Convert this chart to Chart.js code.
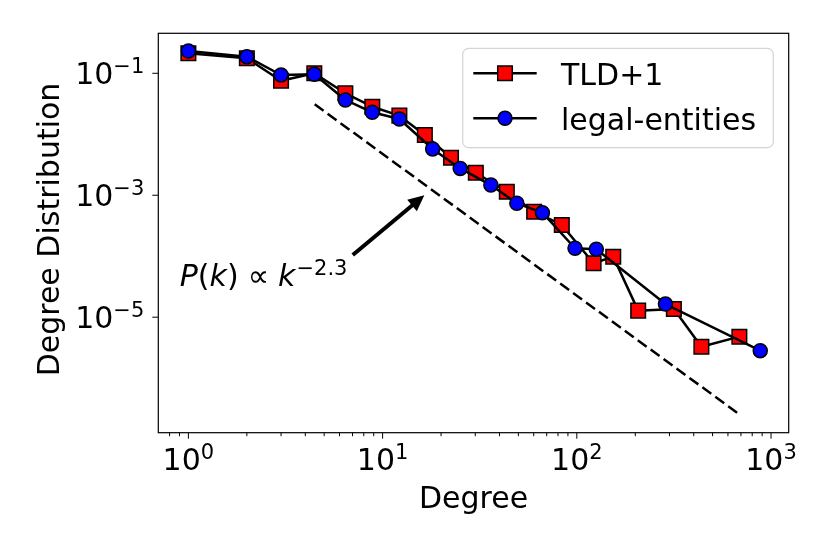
<!DOCTYPE html>
<html><head><meta charset="utf-8">
<script src="https://cdn.jsdelivr.net/npm/chart.js@4.4.1/dist/chart.umd.min.js"></script>
<style>html,body{margin:0;padding:0;background:#fff}canvas{display:block}</style>
</head><body>
<canvas id="c" width="830" height="554"></canvas>
<script>
// ---- data ----
const tldDegree = [1, 2, 3, 4.45, 6.43, 8.85, 12.2, 16.5, 22.5, 30.2, 43.6, 60.3, 83.7, 122, 154, 207, 316, 438, 687];
const tldDist   = [0.213, 0.176, 0.0756, 0.100, 0.0470, 0.0283, 0.0202, 0.00973, 0.00413, 0.00234, 0.00114, 0.000537, 0.000325, 7.65e-5, 9.82e-5, 1.28e-5, 1.36e-5, 3.28e-6, 4.79e-6];
const legalDegree = [1, 2, 3, 4.45, 6.43, 8.85, 12.2, 18.1, 25.1, 36.1, 49.1, 66.5, 97.9, 126, 286, 880];
const legalDist   = [0.232, 0.187, 0.0938, 0.0964, 0.0365, 0.0229, 0.0178, 0.00573, 0.00275, 0.00147, 0.000738, 0.000518, 0.000135, 0.000130, 1.64e-5, 2.82e-6];
const fitDegree = [4.47, 687];
const fitDist   = [0.0310, 2.55e-7];
const seriesNames = ['TLD+1', 'legal-entities'];
const xTickExponents = [0, 1, 2, 3];
const yTickExponents = [-1, -3, -5];
const xTitle = 'Degree';
const yTitle = 'Degree Distribution';
const fitLabelAt = {x: 0.903, y: 3.24e-5};
const arrowFrom = {x: 7.02, y: 1.05e-4};
const arrowTo   = {x: 16.4, y: 1.0e-3};
const xRange = [0.7127, 1233];
const yRange = [1.274e-7, 0.4529];

const FONT = '"DejaVu Sans", "Liberation Sans", sans-serif';
const pts = (xs, ys) => xs.map((v, i) => ({x: v, y: ys[i]}));

function drawPow(ctx, exp, x, baseline, align) {
  const base = '10';
  const sup = exp < 0 ? '\u2212' + (-exp) : String(exp);
  ctx.font = '30px ' + FONT;
  const bw = ctx.measureText(base).width;
  ctx.font = '21px ' + FONT;
  const sw = ctx.measureText(sup).width;
  const total = bw + sw;
  let start = align === 'center' ? x - total / 2 : x - total;
  ctx.textAlign = 'left';
  ctx.textBaseline = 'alphabetic';
  ctx.font = '30px ' + FONT;
  ctx.fillText(base, start, baseline);
  ctx.font = '21px ' + FONT;
  ctx.fillText(sup, start + bw, baseline - 11);
}

const decor = {
  id: 'decor',
  afterDraw(chart) {
    const {ctx, chartArea: a, scales: {x, y}} = chart;
    ctx.save();
    ctx.fillStyle = '#000';
    ctx.strokeStyle = '#000';
    // frame
    ctx.lineWidth = 1.2;
    ctx.strokeRect(a.left, a.top, a.right - a.left, a.bottom - a.top);
    // x ticks
    ctx.lineWidth = 1;
    for (let d = -1; d <= 3; d++) {
      for (let m = 1; m <= 9; m++) {
        const v = m * Math.pow(10, d);
        if (v < xRange[0] || v > xRange[1]) continue;
        const px = x.getPixelForValue(v);
        const len = m === 1 ? 6 : 3.5;
        ctx.beginPath();
        ctx.moveTo(px, a.bottom);
        ctx.lineTo(px, a.bottom + len);
        ctx.stroke();
      }
    }
    xTickExponents.forEach(e => {
      const px = x.getPixelForValue(Math.pow(10, e));
      drawPow(ctx, e, px, a.bottom + 37.5, 'center');
    });
    // y ticks
    yTickExponents.forEach(e => {
      const py = y.getPixelForValue(Math.pow(10, e));
      ctx.beginPath();
      ctx.moveTo(a.left, py);
      ctx.lineTo(a.left - 6, py);
      ctx.stroke();
      drawPow(ctx, e, a.left - 14, py + 11, 'right');
    });
    // axis titles
    ctx.font = '30px ' + FONT;
    ctx.textAlign = 'center';
    ctx.textBaseline = 'alphabetic';
    ctx.fillText(xTitle, (a.left + a.right) / 2, a.bottom + 75.6);
    ctx.save();
    ctx.translate(59.3, (a.top + a.bottom) / 2 - 3.5);
    ctx.rotate(-Math.PI / 2);
    ctx.fillText(yTitle, 0, 0);
    ctx.restore();

    // annotation text  P(k) ∝ k^{-2.3}
    let tx = x.getPixelForValue(fitLabelAt.x);
    const ty = y.getPixelForValue(fitLabelAt.y);
    ctx.textAlign = 'left';
    const pieces = [
      ['P', true], ['(', false], ['k', true], [')', false], [' ', false, 9], ['\u221D', false], [' ', false, 9], ['k', true]
    ];
    pieces.forEach(p => {
      ctx.font = (p[1] ? 'italic ' : '') + '30px ' + FONT;
      if (p[2] !== undefined) { tx += p[2]; return; }
      ctx.fillText(p[0], tx, ty);
      tx += ctx.measureText(p[0]).width;
    });
    ctx.font = '21px ' + FONT;
    ctx.fillText('\u22122.3', tx + 1, ty - 11);

    // arrow
    const x0 = x.getPixelForValue(arrowFrom.x), y0 = y.getPixelForValue(arrowFrom.y);
    const x1 = x.getPixelForValue(arrowTo.x), y1 = y.getPixelForValue(arrowTo.y);
    const L = Math.hypot(x1 - x0, y1 - y0), ux = (x1 - x0) / L, uy = (y1 - y0) / L;
    const hl = 16, hw = 7.5;
    const bx = x1 - ux * hl, by = y1 - uy * hl;
    ctx.lineWidth = 4;
    ctx.lineCap = 'butt';
    ctx.beginPath(); ctx.moveTo(x0, y0); ctx.lineTo(bx + ux * 2, by + uy * 2); ctx.stroke();
    ctx.beginPath();
    ctx.moveTo(x1, y1);
    ctx.lineTo(bx - uy * hw, by + ux * hw);
    ctx.lineTo(bx + uy * hw, by - ux * hw);
    ctx.closePath(); ctx.fill();

    // legend
    const lx = 462.7, ly = 48.3, lw = 773.3 - 462.7, lh = 147.7 - 48.3, r = 6;
    ctx.beginPath();
    ctx.moveTo(lx + r, ly);
    ctx.arcTo(lx + lw, ly, lx + lw, ly + lh, r);
    ctx.arcTo(lx + lw, ly + lh, lx, ly + lh, r);
    ctx.arcTo(lx, ly + lh, lx, ly, r);
    ctx.arcTo(lx, ly, lx + lw, ly, r);
    ctx.closePath();
    ctx.fillStyle = 'rgba(255,255,255,0.8)';
    ctx.fill();
    ctx.strokeStyle = '#d4d4d4';
    ctx.lineWidth = 1.2;
    ctx.stroke();
    const rows = [73.3, 118.3];
    chart.data.datasets.slice(0, 2).forEach((ds, i) => {
      const ry = rows[i];
      ctx.strokeStyle = '#000';
      ctx.lineWidth = 2.5;
      ctx.beginPath(); ctx.moveTo(473.3, ry); ctx.lineTo(536.7, ry); ctx.stroke();
      ctx.fillStyle = ds.pointBackgroundColor;
      ctx.lineWidth = 1.5;
      if (ds.pointStyle === 'rect') {
        const s = ds.pointRadius * Math.SQRT1_2;
        ctx.beginPath(); ctx.rect(505 - s, ry - s, 2 * s, 2 * s); ctx.fill(); ctx.stroke();
      } else {
        ctx.beginPath(); ctx.arc(505, ry, ds.pointRadius, 0, Math.PI * 2); ctx.fill(); ctx.stroke();
      }
      ctx.fillStyle = '#000';
      ctx.font = '30px ' + FONT;
      ctx.textAlign = 'left';
      ctx.fillText(ds.label, 561, ry + 11.7);
    });
    ctx.restore();
  }
};

new Chart(document.getElementById('c'), {
  type: 'line',
  data: {
    datasets: [
      {
        label: seriesNames[0], data: pts(tldDegree, tldDist),
        borderColor: '#000', borderWidth: 2.5, borderJoinStyle: 'round',
        pointStyle: 'rect', pointRadius: 10.3, pointBackgroundColor: '#ff0000',
        pointBorderColor: '#000', pointBorderWidth: 1.5, tension: 0, order: 2, clip: false
      },
      {
        label: seriesNames[1], data: pts(legalDegree, legalDist),
        borderColor: '#000', borderWidth: 2.5, borderJoinStyle: 'round',
        pointStyle: 'circle', pointRadius: 7, pointBackgroundColor: '#0000ff',
        pointBorderColor: '#000', pointBorderWidth: 1.5, tension: 0, order: 1, clip: false
      },
      {
        label: 'fit', data: pts(fitDegree, fitDist),
        borderColor: '#000', borderWidth: 2.5, borderDash: [11, 5],
        pointRadius: 0, tension: 0, order: 3
      }
    ]
  },
  options: {
    responsive: false, animation: false, devicePixelRatio: 1,
    layout: {padding: {left: 158.3, top: 33.3, right: 830 - 788.7, bottom: 554 - 432.7}},
    plugins: {legend: {display: false}, tooltip: {enabled: false}},
    events: [],
    scales: {
      x: {type: 'logarithmic', min: xRange[0], max: xRange[1], display: false},
      y: {type: 'logarithmic', min: yRange[0], max: yRange[1], display: false}
    }
  },
  plugins: [decor]
});
</script>
</body></html>
